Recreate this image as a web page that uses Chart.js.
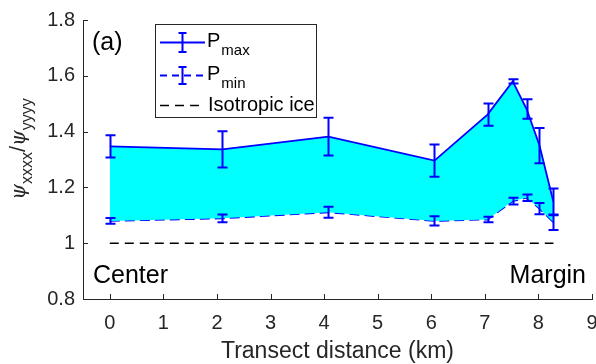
<!DOCTYPE html>
<html><head><meta charset="utf-8">
<style>
html,body{margin:0;padding:0;overflow:hidden;background:#fff;width:596px;height:364px}
#wrap{width:596px;height:364px;overflow:hidden;position:relative}
canvas{display:block}
</style>
<script src="https://cdn.jsdelivr.net/npm/chart.js@4.4.0/dist/chart.umd.min.js"></script>
</head><body><div id="wrap"><canvas id="c" width="620" height="364"></canvas></div>
<script>
const distanceKm = [0, 2.1, 4.08, 6.06, 7.05, 7.52, 7.78, 8.02, 8.28];
const pMax    = [1.347, 1.336, 1.382, 1.296, 1.461, 1.580, 1.481, 1.350, 1.148];
const pMaxErr = [0.040, 0.065, 0.068, 0.058, 0.040, 0.008, 0.035, 0.063, 0.048];
const pMin    = [1.080, 1.089, 1.111, 1.080, 1.085, 1.151, 1.163, 1.124, 1.075];
const pMinErr = [0.010, 0.014, 0.020, 0.017, 0.010, 0.012, 0.012, 0.020, 0.028];
const isoDistance = [0, 8.28];
const isoValue = [1, 1];
const xTicks = [0, 1, 2, 3, 4, 5, 6, 7, 8, 9];
const xTickLabels = ['0','1','2','3','4','5','6','7','8','9'];
const yTicks = [0.8, 1, 1.2, 1.4, 1.6, 1.8];
const yTickLabels = ['0.8','1','1.2','1.4','1.6','1.8'];

const AX = '#262626';
const SANS = '"Liberation Sans", Arial, Helvetica, sans-serif';
const BLUE = '#0000ff';

function pts(xs, ys){ return xs.map((x,i)=>({x:x, y:ys[i]})); }
function labelFor(ticks, labels, v){
  const i = ticks.findIndex(t => Math.abs(t - v) < 1e-9);
  return i >= 0 ? labels[i] : '';
}

const errorBars = {
  id: 'errorBars',
  afterDatasetsDraw(chart){
    const {ctx, scales:{x, y}} = chart;
    const sets = [[pMax, pMaxErr], [pMin, pMinErr]];
    ctx.save();
    ctx.strokeStyle = BLUE; ctx.lineWidth = 2; ctx.setLineDash([]);
    sets.forEach(([vals, errs]) => {
      vals.forEach((v, i) => {
        const px = Math.round(x.getPixelForValue(distanceKm[i])) + 0.5;
        const y1 = y.getPixelForValue(v + errs[i]);
        const y2 = y.getPixelForValue(v - errs[i]);
        ctx.beginPath();
        ctx.moveTo(px, y1); ctx.lineTo(px, y2);
        ctx.moveTo(px - 5, y1); ctx.lineTo(px + 5, y1);
        ctx.moveTo(px - 5, y2); ctx.lineTo(px + 5, y2);
        ctx.stroke();
      });
    });
    ctx.restore();
  }
};

const decor = {
  id: 'decor',
  afterDraw(chart){
    const {ctx, chartArea:ca, scales:{x, y}} = chart;
    ctx.save();
    // inward ticks
    ctx.strokeStyle = AX; ctx.lineWidth = 1; ctx.setLineDash([]);
    ctx.beginPath();
    xTicks.forEach(v => {
      const px = Math.round(x.getPixelForValue(v)) + 0.5;
      ctx.moveTo(px, ca.bottom); ctx.lineTo(px, ca.bottom - 5);
    });
    yTicks.forEach(v => {
      const py = Math.round(y.getPixelForValue(v)) + 0.5;
      ctx.moveTo(ca.left, py); ctx.lineTo(ca.left + 5, py);
    });
    ctx.stroke();

    // annotations
    ctx.fillStyle = '#000';
    ctx.font = '25px ' + SANS;
    ctx.textBaseline = 'alphabetic';
    ctx.textAlign = 'left';
    ctx.fillText('(a)', 92, 50);
    ctx.fillText('Center', 93, 283);
    ctx.textAlign = 'right';
    ctx.fillText('Margin', 586, 283);

    // x title
    ctx.fillStyle = AX;
    ctx.textAlign = 'center';
    ctx.font = '23px ' + SANS;
    ctx.fillText('Transect distance (km)', (ca.left + ca.right) / 2, 358);

    // y title
    const parts = [
      {t:'\u03C8', f:'italic 20px "DejaVu Serif", serif', dy:0},
      {t:'xxxx', f:'16px ' + SANS, dy:7},
      {t:'/', f:'22px ' + SANS, dy:0},
      {t:'\u03C8', f:'italic 20px "DejaVu Serif", serif', dy:0},
      {t:'yyyy', f:'16px ' + SANS, dy:7}
    ];
    let total = 0;
    parts.forEach(p => { ctx.font = p.f; p.w = ctx.measureText(p.t).width; total += p.w; });
    ctx.translate(25, 149);
    ctx.rotate(-Math.PI/2);
    ctx.textAlign = 'left';
    let cx = -total/2;
    parts.forEach(p => { ctx.font = p.f; ctx.fillText(p.t, cx, p.dy); cx += p.w; });
    ctx.restore();

    // legend
    ctx.save();
    ctx.fillStyle = '#fff';
    ctx.fillRect(155.5, 24.5, 161, 93);
    ctx.strokeStyle = AX; ctx.lineWidth = 1;
    ctx.strokeRect(155.5, 24.5, 161, 93);
    // row 1
    ctx.strokeStyle = BLUE; ctx.lineWidth = 1.8;
    ctx.beginPath(); ctx.moveTo(160, 42.5); ctx.lineTo(205, 42.5); ctx.stroke();
    ctx.lineWidth = 2;
    ctx.beginPath();
    ctx.moveTo(182.5, 33); ctx.lineTo(182.5, 52);
    ctx.moveTo(178.5, 33); ctx.lineTo(186.5, 33);
    ctx.moveTo(178.5, 52); ctx.lineTo(186.5, 52);
    ctx.stroke();
    // row 2
    ctx.lineWidth = 1.8; ctx.setLineDash([7, 5]);
    ctx.beginPath(); ctx.moveTo(160, 75.5); ctx.lineTo(205, 75.5); ctx.stroke();
    ctx.setLineDash([]); ctx.lineWidth = 2;
    ctx.beginPath();
    ctx.moveTo(182.5, 67); ctx.lineTo(182.5, 84);
    ctx.moveTo(178.5, 67); ctx.lineTo(186.5, 67);
    ctx.moveTo(178.5, 84); ctx.lineTo(186.5, 84);
    ctx.stroke();
    // row 3
    ctx.strokeStyle = '#000'; ctx.lineWidth = 1.5; ctx.setLineDash([9, 6]);
    ctx.beginPath(); ctx.moveTo(160, 105.5); ctx.lineTo(205, 105.5); ctx.stroke();
    ctx.setLineDash([]);
    // text
    ctx.fillStyle = '#000';
    ctx.textAlign = 'left'; ctx.textBaseline = 'alphabetic';
    ctx.font = '20px ' + SANS;
    ctx.fillText('P', 207, 47);
    let w = ctx.measureText('P').width;
    ctx.font = '15px ' + SANS; ctx.fillText('max', 208 + w, 55);
    ctx.font = '20px ' + SANS; ctx.fillText('P', 207, 80);
    ctx.font = '15px ' + SANS; ctx.fillText('min', 208 + w, 88);
    ctx.font = '20px ' + SANS; ctx.fillText('Isotropic ice', 208, 111);
    ctx.restore();
  }
};

new Chart(document.getElementById('c'), {
  type: 'line',
  data: {
    datasets: [
      { label: 'Pmax', data: pts(distanceKm, pMax), borderColor: BLUE, borderWidth: 1.8,
        backgroundColor: '#00ffff', fill: '+1', pointRadius: 0, tension: 0 },
      { label: 'Pmin', data: pts(distanceKm, pMin), borderColor: BLUE, borderWidth: 1.8,
        borderDash: [10, 5], fill: false, pointRadius: 0, tension: 0 },
      { label: 'Isotropic ice', data: pts(isoDistance, isoValue), borderColor: '#000', borderWidth: 1.5,
        borderDash: [9, 6], fill: false, pointRadius: 0, tension: 0 }
    ]
  },
  options: {
    responsive: false,
    animation: false,
    devicePixelRatio: 1,
    layout: { padding: { left: 0, right: 28, top: 19, bottom: 0 } },
    plugins: { legend: { display: false }, tooltip: { enabled: false } },
    scales: {
      x: {
        type: 'linear', min: -0.5, max: 9,
        afterBuildTicks: s => { s.ticks = xTicks.map(v => ({value: v})); },
        afterFit: s => { s.height = 65; },
        grid: { display: false, drawTicks: false },
        border: { display: true, color: AX, width: 1 },
        ticks: { color: AX, font: { family: SANS, size: 20 }, padding: 12, maxRotation: 0,
          callback: v => labelFor(xTicks, xTickLabels, v) }
      },
      y: {
        type: 'linear', min: 0.8, max: 1.8,
        afterBuildTicks: s => { s.ticks = yTicks.map(v => ({value: v})); },
        afterFit: s => { s.width = 83; },
        grid: { display: false, drawTicks: false },
        border: { display: true, color: AX, width: 1 },
        ticks: { color: AX, font: { family: SANS, size: 20 }, padding: 8,
          callback: v => labelFor(yTicks, yTickLabels, v) }
      }
    }
  },
  plugins: [errorBars, decor]
});
</script>
</body></html>
